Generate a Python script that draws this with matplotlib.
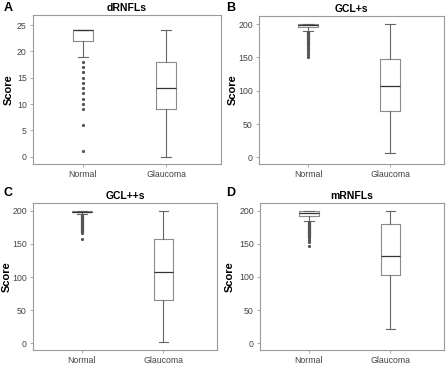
import matplotlib
matplotlib.use("Agg")
import matplotlib.pyplot as plt

plt.rcParams["font.family"] = ["Liberation Sans", "DejaVu Sans"]

groups = ["Normal", "Glaucoma"]
panel_letters = ["A", "B", "C", "D"]
panel_titles = ["dRNFLs", "GCL+s", "GCL++s", "mRNFLs"]

# box stats: (whislo, q1, med, q3, whishi)
normal_stats = [
    (19, 22, 24, 24, 24),
    (189, 196, 199, 200, 200),
    (195, 198, 199, 200, 200),
    (184, 192, 196, 199, 200),
]
glaucoma_stats = [
    (0, 9, 13, 18, 24),
    (7, 69, 107, 148, 200),
    (2, 66, 107, 157, 200),
    (21, 103, 131, 180, 200),
]

# outliers of the Normal group
normal_fliers = [
    [18, 17, 16, 15, 14, 13, 12, 11, 10, 9, 6, 1],
    [188, 187, 186, 185, 184, 183, 182, 181, 180, 179, 178, 177, 176, 175,
     174, 173, 172, 171, 170, 168, 166, 164, 162, 160, 157, 154, 150],
    [194, 193, 192, 191, 190, 189, 188, 187, 186, 185, 184, 183, 182, 181,
     180, 179, 178, 177, 176, 175, 174, 173, 172, 171, 170, 168, 167, 157],
    [183, 182, 181, 180, 179, 178, 177, 176, 175, 174, 173, 172, 171, 170,
     169, 168, 167, 166, 165, 164, 163, 162, 160, 158, 155, 152, 147],
]

ylims = [(-1.4, 26.9), (-10, 212), (-10.5, 211.5), (-10.5, 211)]
yticks = [[0, 5, 10, 15, 20, 25]] + [[0, 50, 100, 150, 200]] * 3

# axes rectangles in figure fractions
rects = [
    [0.074, 0.553, 0.4215, 0.406],
    [0.581, 0.553, 0.415, 0.403],
    [0.074, 0.046, 0.413, 0.400],
    [0.583, 0.046, 0.413, 0.400],
]
# panel letter positions (figure fractions) and y-label x (axes fraction)
letter_xy = [(0.008, 0.978), (0.506, 0.978), (0.008, 0.475), (0.506, 0.473)]
ylabel_x = [-0.10, -0.114, -0.117, -0.136]

fig = plt.figure(figsize=(4.46, 3.67), dpi=100)

for i in range(4):
    ax = fig.add_axes(rects[i])
    stats = []
    for name, s, fl in [(groups[0], normal_stats[i], normal_fliers[i]),
                        (groups[1], glaucoma_stats[i], [])]:
        stats.append(dict(label=name, whislo=s[0], q1=s[1], med=s[2],
                          q3=s[3], whishi=s[4], fliers=fl))
    ax.bxp(stats, positions=[1, 2], widths=0.24, capwidths=0.12,
           boxprops=dict(color="#8c8c8c", linewidth=0.8),
           whiskerprops=dict(color="#666666", linewidth=0.8),
           capprops=dict(color="#666666", linewidth=0.8),
           medianprops=dict(color="#333333", linewidth=0.9),
           flierprops=dict(marker="o", markersize=1.3, markerfacecolor="#555555",
                           markeredgecolor="#555555", linestyle="none"))
    ax.set_xlim(0.4, 2.66)
    ax.set_ylim(*ylims[i])
    ax.set_yticks(yticks[i])
    for sp in ax.spines.values():
        sp.set_color("#9a9a9a")
        sp.set_linewidth(0.8)
    ax.tick_params(axis="both", labelsize=6.3, colors="#9a9a9a",
                   labelcolor="#444444", length=2.5, width=0.6, pad=2)
    ax.set_ylabel("Score", fontsize=8, fontweight="bold")
    ax.yaxis.set_label_coords(ylabel_x[i], 0.5)
    ax.set_title(panel_titles[i], fontsize=7.5, fontweight="bold", pad=3)
    fig.text(*letter_xy[i], panel_letters[i], fontsize=9, fontweight="bold",
             ha="left", va="center")

fig.savefig("out.png", dpi=100)
